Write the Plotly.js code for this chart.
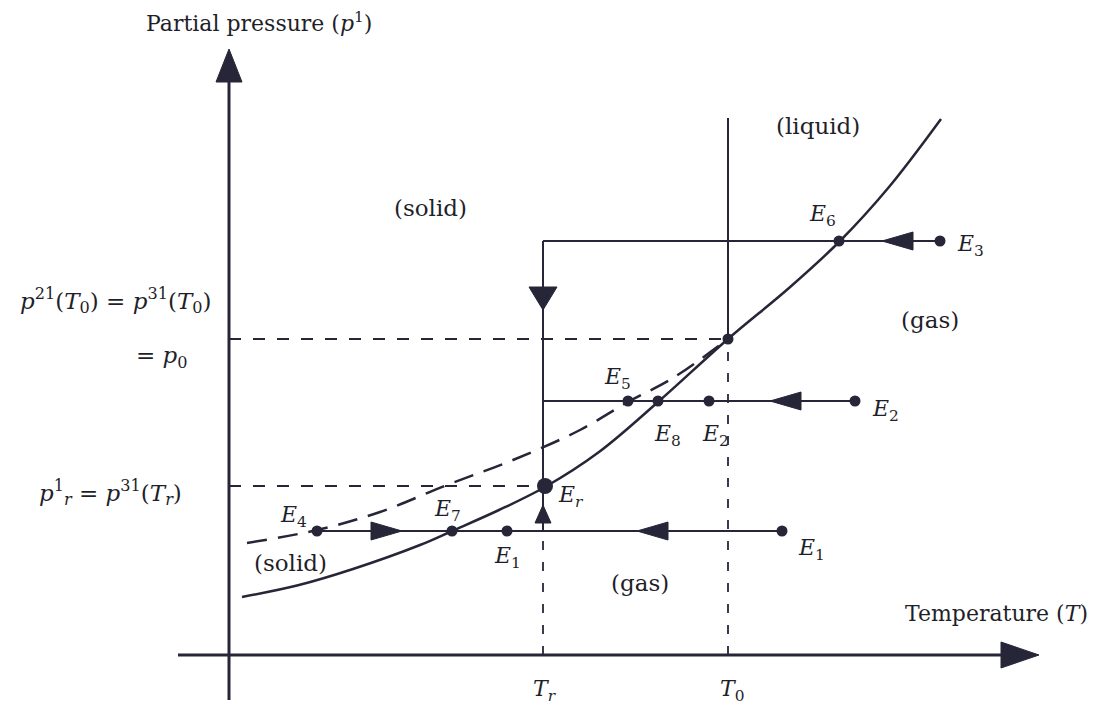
<!DOCTYPE html>
<html>
<head>
<meta charset="utf-8">
<script src="https://cdn.plot.ly/plotly-3.0.1.min.js"></script>
<style>html,body{margin:0;padding:0;background:#fff;}#chart{width:1095px;height:707px;}</style>
</head>
<body>
<div id="chart"></div>
<script>
// ---- Data (temperature T, partial pressure p, in diagram units) ----
const curveT = [0.13, 0.70, 1.24, 1.91, 2.23, 2.70, 3.16, 3.70, 4.29, 4.99, 5.60, 6.10, 6.60, 7.12];
const curveP = [0.58, 0.70, 0.86, 1.10, 1.24, 1.45, 1.68, 2.03, 2.53, 3.16, 3.67, 4.13, 4.68, 5.36];

const dashT = [0.18, 0.88, 1.51, 2.18, 2.84, 3.51, 3.99, 4.44, 4.99];
const dashP = [1.12, 1.25, 1.43, 1.70, 1.95, 2.25, 2.53, 2.77, 3.16];

const Tr = 3.14, T0 = 4.99, p0 = 3.16, pr = 1.69, pTop = 5.37;

const flowLevels = [1.24, 2.54, 4.14];
const flowStart  = [0.88, 3.14, 3.14];
const flowEnd    = [5.53, 6.26, 7.11];

const pointNames = ['E4', 'E7', 'E1', 'E1r', 'E5', 'E8', 'E2', 'E2r', 'T0p', 'E6', 'E3'];
const pointT     = [0.88, 2.23, 2.78, 5.53, 3.99, 4.29, 4.80, 6.26, 4.99, 6.10, 7.11];
const pointP     = [1.24, 1.24, 1.24, 1.24, 2.54, 2.54, 2.54, 2.54, 3.16, 4.14, 4.14];
const ErT = [3.16], ErP = [1.69];

const arrowT   = [1.73, 4.08, 5.41, 6.53, 3.14, 3.14];
const arrowP   = [1.24, 1.24, 2.54, 4.14, 3.45, 1.50];
const arrowDir = ['right', 'left', 'left', 'left', 'down', 'up'];

const axisXMin = -0.51, axisXTip = 8.10, axisYMin = -0.45, axisYTip = 6.06;

// ---- Styling ----
const INK = '#262638';
const FONT = 'DejaVu Serif, Liberation Serif, serif';

function tri(x, y, dir, L, h) {
  if (dir === 'right') return [[x, x - L, x - L, x], [y, y + h, y - h, y]];
  if (dir === 'left')  return [[x, x + L, x + L, x], [y, y + h, y - h, y]];
  if (dir === 'up')    return [[x, x - h, x + h, x], [y, y - L, y - L, y]];
  return [[x, x - h, x + h, x], [y, y + L, y + L, y]];
}
function poly(xy) {
  return {x: xy[0], y: xy[1], mode: 'lines', fill: 'toself', fillcolor: INK,
          line: {color: INK, width: 1}, hoverinfo: 'skip', showlegend: false};
}

const traces = [];
// axes
traces.push({x: [axisXMin, axisXTip - 0.2], y: [0, 0], mode: 'lines', line: {color: INK, width: 3}, showlegend: false});
traces.push({x: [0, 0], y: [axisYMin, axisYTip - 0.2], mode: 'lines', line: {color: INK, width: 3}, showlegend: false});
traces.push(poly(tri(axisXTip, 0, 'right', 0.38, 0.13)));
traces.push(poly(tri(0, axisYTip, 'up', 0.33, 0.13)));

// dashed reference lines
const refDash = '12px,12px';
traces.push({x: [0, T0], y: [p0, p0], mode: 'lines', line: {color: INK, width: 1.8, dash: refDash}, showlegend: false});
traces.push({x: [0, Tr], y: [pr, pr], mode: 'lines', line: {color: INK, width: 1.8, dash: refDash}, showlegend: false});
traces.push({x: [Tr, Tr], y: [0, flowLevels[0]], mode: 'lines', line: {color: INK, width: 1.8, dash: '9px,12px'}, showlegend: false});
traces.push({x: [T0, T0], y: [0, p0], mode: 'lines', line: {color: INK, width: 1.8, dash: '9px,12px'}, showlegend: false});

// solid vertical lines
traces.push({x: [Tr, Tr], y: [flowLevels[0], flowLevels[2]], mode: 'lines', line: {color: INK, width: 2}, showlegend: false});
traces.push({x: [T0, T0], y: [p0, pTop], mode: 'lines', line: {color: INK, width: 2}, showlegend: false});

// horizontal flow lines
for (let i = 0; i < flowLevels.length; i++) {
  traces.push({x: [flowStart[i], flowEnd[i]], y: [flowLevels[i], flowLevels[i]], mode: 'lines',
               line: {color: INK, width: 2}, showlegend: false});
}

// curves
traces.push({x: dashT, y: dashP, mode: 'lines', line: {color: INK, width: 2.5, dash: '20px,11px', shape: 'spline'}, showlegend: false});
traces.push({x: curveT, y: curveP, mode: 'lines', line: {color: INK, width: 2.5, shape: 'spline'}, showlegend: false});

// flow arrows
for (let i = 0; i < arrowT.length; i++) {
  const vertical = arrowDir[i] === 'up' || arrowDir[i] === 'down';
  const L = arrowDir[i] === 'up' ? 0.18 : (vertical ? 0.23 : 0.31);
  const h = arrowDir[i] === 'up' ? 0.08 : (vertical ? 0.14 : 0.09);
  traces.push(poly(tri(arrowT[i], arrowP[i], arrowDir[i], L, h)));
}

// points
traces.push({x: pointT, y: pointP, mode: 'markers', marker: {color: INK, size: 11}, text: pointNames, hoverinfo: 'text', showlegend: false});
traces.push({x: ErT, y: ErP, mode: 'markers', marker: {color: INK, size: 16, symbol: 'circle'}, showlegend: false});

function ann(text, x, y, size, extra) {
  return Object.assign({text: text, x: x, y: y, xref: 'x', yref: 'y', showarrow: false,
    font: {family: FONT, size: size || 22, color: '#1f1f2a'}}, extra || {});
}
const E = (n) => '<i>E</i><sub>' + n + '</sub>';

const annotations = [
  ann('Partial pressure (<i>p</i><sup>1</sup>)', 0.30, 6.33, 22),
  ann('Temperature (<i>T</i>)', 7.67, 0.42, 22),
  ann('<i>p</i><sup>21</sup>(<i>T</i><sub>0</sub>) = <i>p</i><sup>31</sup>(<i>T</i><sub>0</sub>)', -1.14, 3.55, 23),
  ann('= <i>p</i><sub>0</sub>', -0.67, 2.98, 23),
  ann('<i>p</i><sup>1</sup><sub><i>r</i></sub> = <i>p</i><sup>31</sup>(<i>T</i><sub><i>r</i></sub>)', -1.19, 1.63, 23),
  ann('(solid)', 2.01, 4.47, 23),
  ann('(liquid)', 5.89, 5.29, 23),
  ann('(gas)', 7.01, 3.35, 23),
  ann('(solid)', 0.61, 0.92, 23),
  ann('(gas)', 4.11, 0.72, 23),
  ann(E(6), 5.93, 4.40),
  ann(E(3), 7.41, 4.10),
  ann(E(5), 3.88, 2.77),
  ann(E(2), 6.56, 2.45),
  ann(E(8), 4.38, 2.20),
  ann(E(2), 4.86, 2.20),
  ann('<i>E</i><sub><i>r</i></sub>', 3.42, 1.59),
  ann(E(4), 0.64, 1.39),
  ann(E(7), 2.18, 1.45),
  ann(E(1), 2.78, 0.98),
  ann(E(1), 5.82, 1.06),
  ann('<i>T</i><sub><i>r</i></sub>', 3.16, -0.35),
  ann('<i>T</i><sub>0</sub>', 5.03, -0.35)
];

const layout = {
  width: 1095, height: 707,
  margin: {l: 0, r: 0, t: 0, b: 0},
  paper_bgcolor: '#ffffff', plot_bgcolor: '#ffffff',
  xaxis: {range: [-2.29, 8.66], visible: false, fixedrange: true},
  yaxis: {range: [-0.52, 6.55], visible: false, fixedrange: true},
  showlegend: false,
  annotations: annotations
};

Plotly.newPlot('chart', traces, layout, {staticPlot: true});
</script>
</body>
</html>
